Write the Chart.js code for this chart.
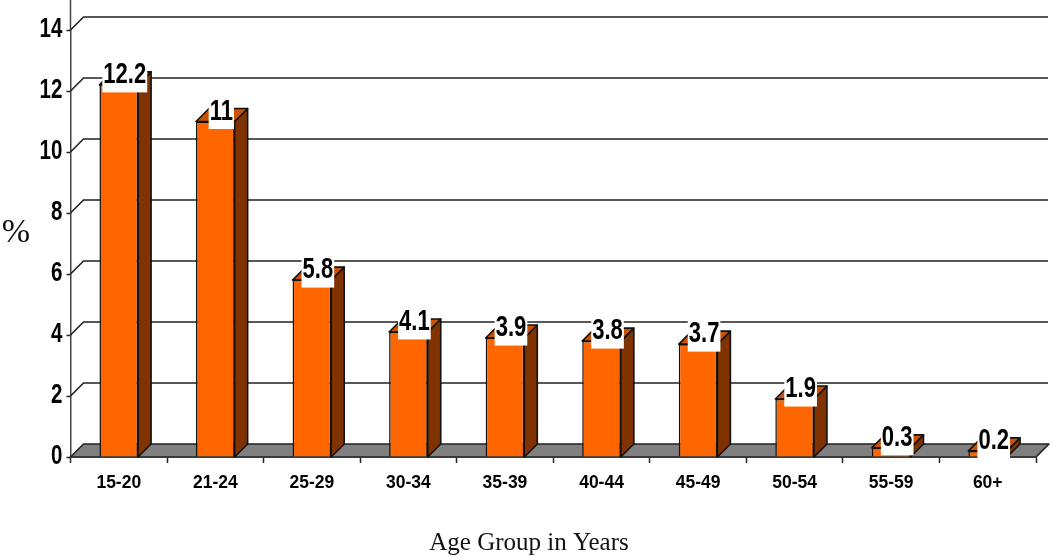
<!DOCTYPE html>
<html><head><meta charset="utf-8">
<style>html,body{margin:0;padding:0;background:#fff}canvas{display:block}</style>
<script src="https://cdn.jsdelivr.net/npm/chart.js@4"></script>
</head><body><canvas id="c" width="1050" height="558" style="width:1050px;height:558px"></canvas>
<script>
const categories = ["15-20","21-24","25-29","30-34","35-39","40-44","45-49","50-54","55-59","60+"];
const percentages = [12.2,11,5.8,4.1,3.9,3.8,3.7,1.9,0.3,0.2];
const yTicks = [0,2,4,6,8,10,12,14];
const valueLabels = ["12.2","11","5.8","4.1","3.9","3.8","3.7","1.9","0.3","0.2"];
const yTitle = "%";
const xTitle = "Age Group in Years";

const D = 13;
const LINE = "#222";
const NARROW = 0.76;
function poly(ctx, pts, fill, stroke, lw){
  ctx.beginPath();
  pts.forEach((p,i)=> i?ctx.lineTo(p[0],p[1]):ctx.moveTo(p[0],p[1]));
  ctx.closePath();
  if(fill){ctx.fillStyle=fill;ctx.fill();}
  if(stroke){ctx.strokeStyle=stroke;ctx.lineWidth=lw||1.5;ctx.lineJoin="round";ctx.stroke();}
}
const depth3d = {
  id:"depth3d",
  beforeDatasetsDraw(chart){
    const ctx=chart.ctx, y=chart.scales.y, a=chart.chartArea;
    ctx.save();
    const y0=y.getPixelForValue(0);
    ctx.strokeStyle="#444"; ctx.lineWidth=1.5;
    ctx.beginPath(); ctx.moveTo(a.left,0); ctx.lineTo(a.left,a.top); ctx.stroke();
    yTicks.filter(v=>v>0).forEach(v=>{
      const py=y.getPixelForValue(v);
      ctx.strokeStyle=LINE; ctx.lineWidth=1.6;
      ctx.beginPath();
      ctx.moveTo(a.left,py); ctx.lineTo(a.left+D,py-D); ctx.lineTo(a.right+D-1,py-D);
      ctx.stroke();
    });
    poly(ctx,[[a.left,y0],[a.right,y0],[a.right+D,y0-D],[a.left+D,y0-D]],"#808080",LINE,1.6);
    chart.getDatasetMeta(0).data.forEach(b=>{
      const p=b.getProps(["x","y","base","width"],true);
      const l=p.x-p.width/2, r=p.x+p.width/2;
      poly(ctx,[[r,p.y],[r+D,p.y-D],[r+D,y0-D],[r,y0]],"#803300","#111",1.6);
      poly(ctx,[[l,p.y],[l+D,p.y-D],[r+D,p.y-D],[r,p.y]],"#cc5200","#111",1.6);
    });
    ctx.restore();
  },
  afterDatasetsDraw(chart){
    const ctx=chart.ctx;
    ctx.save();
    ctx.font='bold 29px "Liberation Sans"';
    ctx.textAlign="center"; ctx.textBaseline="alphabetic";
    chart.getDatasetMeta(0).data.forEach((b,i)=>{
      const p=b.getProps(["x","y"],true);
      const t=valueLabels[i], w=ctx.measureText(t).width*NARROW+2, cx=p.x+6;
      ctx.fillStyle="#fff";
      ctx.fillRect(cx-w/2,p.y-25,w,32.5);
      ctx.fillStyle="#000";
      ctx.save();
      ctx.translate(cx,p.y-2);
      ctx.scale(NARROW,1);
      ctx.fillText(t,0,0);
      ctx.restore();
    });
    ctx.fillStyle="#111";
    ctx.font='34px "Liberation Serif"';
    ctx.textAlign="center"; ctx.textBaseline="middle";
    ctx.fillText(yTitle,16,233);
    ctx.font='25px "Liberation Serif"';
    ctx.fillText(xTitle,529,543);
    ctx.restore();
  }
};
function narrowLabels(s,anchorX,k){
  if(s._narrowed) return;
  s._narrowed=true;
  const orig=s.drawLabels;
  s.drawLabels=function(area){
    const ctx=s.ctx;
    ctx.save();
    ctx.translate(anchorX,0); ctx.scale(k,1); ctx.translate(-anchorX,0);
    orig.call(s,area);
    ctx.restore();
  };
}
new Chart(document.getElementById("c"),{
  type:"bar",
  data:{labels:categories,datasets:[{data:percentages,backgroundColor:"#ff6600",borderColor:"#111",borderWidth:1.5,barPercentage:0.4,categoryPercentage:1}]},
  options:{
    responsive:false,animation:false,devicePixelRatio:1,
    layout:{padding:{left:0,right:14,top:30,bottom:0}},
    plugins:{legend:{display:false},title:{display:false},tooltip:{enabled:false}},
    scales:{
      x:{
        offset:true,
        afterFit(s){s.height=101;},
        grid:{offset:true,drawOnChartArea:false,drawTicks:true,tickLength:6,color:"#222",tickWidth:1.5},
        border:{display:true,color:LINE,width:1.6},
        ticks:{color:"#000",maxRotation:0,autoSkip:false,padding:10,font:{family:'"Liberation Sans"',weight:"bold",size:17.5}}
      },
      y:{
        min:0,max:14,
        afterFit(s){s.width=70.5;narrowLabels(s,62,NARROW);},
        afterBuildTicks(s){s.ticks=yTicks.map(v=>({value:v}));},
        grid:{drawOnChartArea:false,drawTicks:true,tickLength:4,color:"#222",tickWidth:1.5},
        border:{display:true,color:"#444",width:1.5},
        ticks:{color:"#000",padding:4,font:{family:'"Liberation Sans"',weight:"bold",size:27}}
      }
    }
  },
  plugins:[depth3d]
});
</script></body></html>
